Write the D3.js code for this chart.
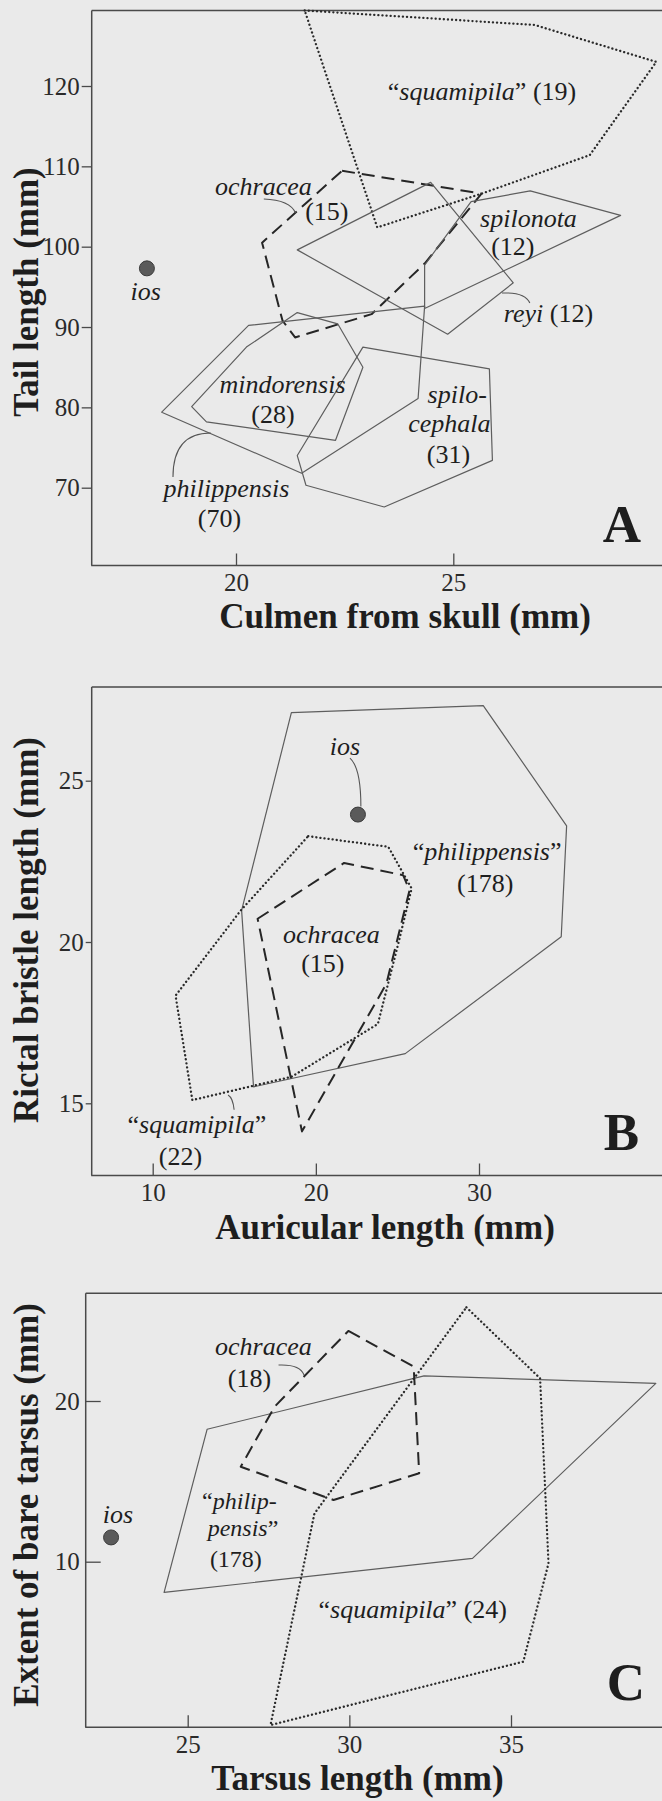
<!DOCTYPE html>
<html><head><meta charset="utf-8">
<script src="https://cdn.jsdelivr.net/npm/d3@7"></script>
<style>body{margin:0;background:#eaeaea}svg{display:block}</style>
</head><body>
<svg id="c" width="662" height="1801"></svg>
<script>
// ---------- Panel A : culmen from skull (x) vs tail length (y) ----------
const A_xTicks = [20, 25];
const A_yTicks = [70, 80, 90, 100, 110, 120];
const A_squamipila   = [[21.58,129.4],[26.87,127.6],[29.67,123.0],[28.14,111.4],[25.65,106.6],[23.25,102.4]];
const A_ochracea     = [[22.44,109.45],[25.65,106.6],[24.34,97.9],[23.12,91.6],[21.36,88.7],[21.07,90.8],[20.6,100.5]];
const A_spilonota    = [[24.34,97.7],[25.41,105.6],[26.77,106.95],[28.85,103.9],[24.34,92.3]];
const A_reyi         = [[21.41,99.6],[24.48,108.0],[26.38,95.5],[24.87,89.1]];
const A_mindorensis  = [[21.41,91.8],[22.34,90.4],[22.92,85.0],[22.29,75.9],[19.32,78.2],[18.98,80.1],[20.24,87.5]];
const A_spilocephala = [[22.92,87.5],[25.83,84.8],[25.90,73.4],[23.41,67.6],[21.61,70.3],[21.41,74.0]];
const A_philippensis = [[18.29,79.4],[20.29,90.2],[24.34,92.6],[24.19,81.1],[21.51,71.8]];
const A_ios = [17.95, 97.3];

// ---------- Panel B : auricular length (x) vs rictal bristle length (y) ----------
const B_xTicks = [10, 20, 30];
const B_yTicks = [15, 20, 25];
const B_philippensis = [[18.50,27.11],[30.26,27.33],[35.37,23.60],[35.04,20.16],[25.48,16.54],[16.18,15.51],[15.45,20.98]];
const B_squamipila   = [[19.53,23.28],[24.44,22.95],[25.87,21.66],[25.09,20.03],[23.80,17.46],[18.50,15.82],[12.43,15.10],[11.40,18.34],[15.40,20.98]];
const B_ochracea     = [[16.43,20.72],[21.73,22.45],[25.35,22.07],[25.74,21.6],[24.32,18.7],[19.15,14.13]];
const B_ios = [22.58, 23.95];

// ---------- Panel C : tarsus length (x) vs extent of bare tarsus (y) ----------
const C_xTicks = [25, 30, 35];
const C_yTicks = [10, 20];
const C_philippensis = [[25.60,18.24],[32.31,21.56],[39.48,21.10],[33.81,10.21],[24.27,8.09]];
const C_ochracea     = [[29.97,24.36],[31.99,22.14],[32.16,15.50],[29.51,13.84],[26.64,15.91],[27.69,19.65]];
const C_squamipila   = [[33.62,25.83],[35.90,21.41],[36.16,9.90],[35.38,3.78],[27.56,-0.17],[28.92,13.0]];
const C_ios = [22.63, 11.51];

// ---------- labels (data units; each label = lines of [text, italic] parts) ----------
const A_labels = [
  [{x:25.66, y:118.26, parts:[["\u201C",0],["squamipila",1],["\u201D (19)",0]]}],
  [{x:20.63, y:106.43, parts:[["ochracea",1]]}, {x:22.09, y:103.32, parts:[["(15)",0]]}],
  [{x:26.73, y:102.45, parts:[["spilonota",1]]}, {x:26.37, y:98.96, parts:[["(12)",0]]}],
  [{x:27.19, y:90.62,  parts:[["reyi",1],[" (12)",0]]}],
  [{x:21.07, y:81.79,  parts:[["mindorensis",1]]}, {x:20.85, y:78.05, parts:[["(28)",0]]}],
  [{x:25.09, y:80.54,  parts:[["spilo-",1]]}, {x:24.91, y:76.93, parts:[["cephala",1]]}, {x:24.89, y:73.07, parts:[["(31)",0]]}],
  [{x:19.78, y:68.84,  parts:[["philippensis",1]]}, {x:19.62, y:65.11, parts:[["(70)",0]]}],
  [{x:17.92, y:93.36,  parts:[["ios",1]]}]
];
const A_leaders = [
  [[20.64,105.93],[21.24,105.81],[21.37,104.19]],
  [[26.12,94.23],[26.65,94.36],[26.76,92.99]],
  [[18.55,71.33],[18.55,76.81],[19.42,76.81]]
];
const B_labels = [
  [{x:30.50, y:22.54, parts:[["\u201C",0],["philippensis",1],["\u201D",0]]}, {x:30.38, y:21.56, parts:[["(178)",0]]}],
  [{x:20.95, y:19.97, parts:[["ochracea",1]]}, {x:20.43, y:19.08, parts:[["(15)",0]]}],
  [{x:12.71, y:14.08, parts:[["\u201C",0],["squamipila",1],["\u201D",0]]}, {x:11.70, y:13.09, parts:[["(22)",0]]}],
  [{x:21.78, y:25.80, parts:[["ios",1]]}]
];
const B_leaders = [
  [[22.09,25.70],[22.76,25.40],[22.76,24.20]],
  [[14.62,15.26],[14.92,15.17],[14.99,14.80]]
];
const C_labels = [
  [{x:27.34, y:22.86, parts:[["ochracea",1]]}, {x:26.91, y:20.89, parts:[["(18)",0]]}],
  [{x:26.60, y:13.28, fs:24, parts:[["\u201C",0],["philip-",1]]}, {x:26.71, y:11.63, parts:[["pensis",1],["\u201D",0]]}, {x:26.49, y:9.69, parts:[["(178)",0]]}],
  [{x:31.96, y:6.50,  parts:[["\u201C",0],["squamipila",1],["\u201D (24)",0]]}],
  [{x:22.84, y:12.41, parts:[["ios",1]]}]
];
const C_leaders = [
  [[27.81,22.24],[28.47,22.30],[28.60,21.62]]
];

// ---------- drawing ----------
const FONT = "Liberation Serif, Times New Roman, Times, serif";
const INK = "#1e1e1e";
const svg = d3.select("#c");
svg.append("rect").attr("width",662).attr("height",1801).attr("fill","#eaeaea");

const lineStyles = {
  solid:  {stroke:"#5e5e5e", w:1.2, dash:null, cap:"butt"},
  dashed: {stroke:"#262626", w:2.0, dash:"13,7", cap:"butt"},
  dotted: {stroke:"#2a2a2a", w:2.3, dash:"0.1,4", cap:"round"}
};

function panel(cfg){
  const x = d3.scaleLinear().domain(cfg.xd).range(cfg.xr);
  const y = d3.scaleLinear().domain(cfg.yd).range(cfg.yr);
  const g = svg.append("g");

  // frame (open to the right, like the scanned figure)
  g.append("path")
    .attr("d", `M${cfg.L},${cfg.T}H680M${cfg.L},${cfg.T}V${cfg.B}M${cfg.L - 0.5},${cfg.B}H680`)
    .attr("fill","none").attr("stroke","#4a4a4a").attr("stroke-width",1.5);

  // axes
  const fmt = d3.format("d");
  const ax = g.append("g").attr("transform",`translate(0,${cfg.B})`)
    .call(d3.axisBottom(x).tickValues(cfg.xTicks).tickFormat(fmt).tickSize(-12).tickPadding(8));
  const ay = g.append("g").attr("transform",`translate(${cfg.L},0)`)
    .call(d3.axisLeft(y).tickValues(cfg.yTicks).tickFormat(fmt).tickSize(cfg.yTickSize).tickPadding(cfg.yPad));
  [ax, ay].forEach(a => {
    a.attr("font-family",FONT).attr("font-size",25);
    a.select(".domain").remove();
    a.selectAll("line").attr("stroke","#4a4a4a").attr("stroke-width",1.3);
    a.selectAll("text").attr("font-family",FONT).attr("font-size",25).attr("fill","#2a2a2a");
  });

  // polygons
  const line = d3.line().x(d => x(d[0])).y(d => y(d[1]));
  cfg.polys.forEach(p => {
    const s = lineStyles[p.style];
    g.append("path").attr("d", line(p.pts) + "Z")
      .attr("fill","none").attr("stroke",s.stroke).attr("stroke-width",s.w)
      .attr("stroke-dasharray",s.dash).attr("stroke-linecap",s.cap)
      .attr("stroke-linejoin","round");
  });

  // leaders
  cfg.leaders.forEach(l => {
    g.append("path")
      .attr("d", `M${x(l[0][0])},${y(l[0][1])}Q${x(l[1][0])},${y(l[1][1])} ${x(l[2][0])},${y(l[2][1])}`)
      .attr("fill","none").attr("stroke","#555").attr("stroke-width",1.1);
  });

  // ios point
  g.append("circle").attr("cx",x(cfg.ios[0])).attr("cy",y(cfg.ios[1])).attr("r",7.5)
    .attr("fill","#5a5a5a").attr("stroke","#3a3a3a").attr("stroke-width",1);

  // labels (one text element per label, one tspan line each)
  cfg.labels.forEach(lb => {
    const t = g.append("text").attr("text-anchor","middle")
      .attr("font-family",FONT).attr("font-size",lb[0].fs || 26).attr("fill",INK);
    lb.forEach(ln => {
      const row = t.append("tspan").attr("x",x(ln.x)).attr("y",y(ln.y));
      ln.parts.forEach(p => row.append("tspan").attr("font-style", p[1] ? "italic" : "normal").text(p[0]));
    });
  });

  // axis titles
  g.append("text").attr("x",cfg.xtX).attr("y",cfg.xtY).attr("text-anchor","middle")
    .attr("font-family",FONT).attr("font-weight","bold").attr("font-size",35).attr("fill",INK)
    .text(cfg.xTitle);
  g.append("text").attr("transform",`translate(38,${cfg.ytY}) rotate(-90)`).attr("text-anchor","middle")
    .attr("font-family",FONT).attr("font-weight","bold").attr("font-size",35).attr("fill",INK)
    .text(cfg.yTitle);
  // panel letter
  g.append("text").attr("x",cfg.letterX).attr("y",cfg.letterY).attr("text-anchor","middle")
    .attr("font-family",FONT).attr("font-weight","bold").attr("font-size",53).attr("fill",INK)
    .text(cfg.letter);
}

panel({
  xd:[20,25], xr:[236,453.3], yd:[70,120], yr:[487.7,86],
  L:91.7, T:10.5, B:565.5,
  xTicks:A_xTicks, yTicks:A_yTicks, yTickSize:10, yPad:2,
  polys:[
    {pts:A_squamipila, style:"dotted"},
    {pts:A_ochracea, style:"dashed"},
    {pts:A_spilonota, style:"solid"},
    {pts:A_reyi, style:"solid"},
    {pts:A_mindorensis, style:"solid"},
    {pts:A_spilocephala, style:"solid"},
    {pts:A_philippensis, style:"solid"}
  ],
  ios:A_ios, labels:A_labels, leaders:A_leaders,
  xTitle:"Culmen from skull (mm)", xtX:405, xtY:628,
  yTitle:"Tail length (mm)", ytY:292,
  letter:"A", letterX:622, letterY:542
});

panel({
  xd:[10,30], xr:[152.7,479], yd:[15,25], yr:[1103.3,780.7],
  L:91.7, T:687, B:1175.5,
  xTicks:B_xTicks, yTicks:B_yTicks, yTickSize:6, yPad:2,
  polys:[
    {pts:B_philippensis, style:"solid"},
    {pts:B_squamipila, style:"dotted"},
    {pts:B_ochracea, style:"dashed"}
  ],
  ios:B_ios, labels:B_labels, leaders:B_leaders,
  xTitle:"Auricular length (mm)", xtX:385, xtY:1239,
  yTitle:"Rictal bristle length (mm)", ytY:930,
  letter:"B", letterX:621.5, letterY:1150
});

panel({
  xd:[25,35], xr:[187.7,511], yd:[10,20], yr:[1561.7,1401],
  L:85.7, T:1293.3, B:1727.3,
  xTicks:C_xTicks, yTicks:C_yTicks, yTickSize:-15, yPad:6,
  polys:[
    {pts:C_philippensis, style:"solid"},
    {pts:C_ochracea, style:"dashed"},
    {pts:C_squamipila, style:"dotted"}
  ],
  ios:C_ios, labels:C_labels, leaders:C_leaders,
  xTitle:"Tarsus length (mm)", xtX:357.5, xtY:1790,
  yTitle:"Extent of bare tarsus (mm)", ytY:1505,
  letter:"C", letterX:626, letterY:1700
});
</script>
</body></html>
